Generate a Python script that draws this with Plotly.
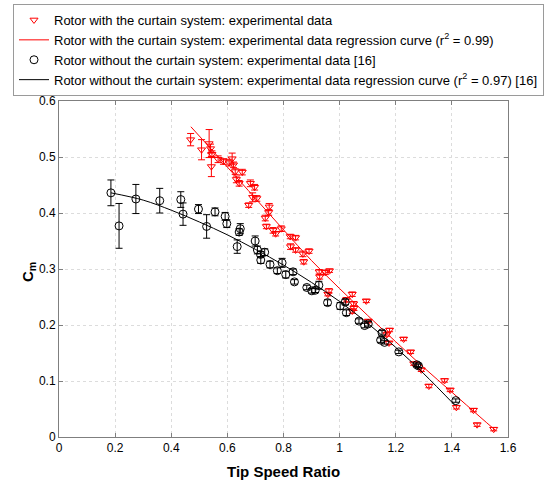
import plotly.graph_objects as go

# ---- data ----
red_x = [0.469, 0.508, 0.535, 0.540, 0.545, 0.543, 0.567, 0.586, 0.606, 0.617, 0.622, 0.628, 0.653,
         0.632, 0.642, 0.682, 0.697, 0.676, 0.690, 0.705, 0.749, 0.747, 0.735, 0.739, 0.763, 0.772,
         0.792, 0.824, 0.843, 0.825, 0.843, 0.869, 0.891, 0.872, 0.927, 0.949, 0.964, 0.929, 0.962,
         0.958, 1.024, 1.045, 1.050, 1.051, 1.045, 1.095, 1.102, 1.178, 1.168, 1.176, 1.228, 1.253,
         1.264, 1.291, 1.318, 1.374, 1.394, 1.416, 1.477, 1.490, 1.549]
red_y = [0.531, 0.513, 0.524, 0.515, 0.505, 0.483, 0.496, 0.492, 0.490, 0.497, 0.486, 0.474, 0.473,
         0.460, 0.453, 0.453, 0.446, 0.414, 0.428, 0.426, 0.411, 0.401, 0.391, 0.376, 0.369, 0.363,
         0.372, 0.358, 0.356, 0.340, 0.334, 0.327, 0.332, 0.313, 0.295, 0.294, 0.297, 0.286, 0.261,
         0.255, 0.245, 0.255, 0.238, 0.230, 0.225, 0.243, 0.207, 0.191, 0.183, 0.168, 0.175, 0.152,
         0.131, 0.120, 0.091, 0.101, 0.084, 0.053, 0.048, 0.022, 0.014]
red_err = [0.011, 0.018, 0.025, 0.008, 0.006, 0.018, 0.006, 0.005, 0.006, 0.010, 0.005, 0.005, 0.005,
           0.006, 0.005, 0.006, 0.005, 0.004, 0.008, 0.005, 0.006, 0.005, 0.005, 0.004, 0.005, 0.004,
           0.005, 0.004, 0.004, 0.005, 0.004, 0.005, 0.004, 0.004, 0.004, 0.004, 0.003, 0.004, 0.004,
           0.003, 0.004, 0.004, 0.004, 0.004, 0.004, 0.003, 0.003, 0.003, 0.003, 0.003, 0.003, 0.003,
           0.003, 0.003, 0.003, 0.003, 0.003, 0.003, 0.003, 0.003, 0.003]

red_curve_x = [0.47, 0.6, 0.7, 0.8, 0.9, 1.0, 1.1, 1.2, 1.3, 1.4, 1.5, 1.555]
red_curve_y = [0.554, 0.482, 0.426, 0.370, 0.315, 0.265, 0.217, 0.170, 0.124, 0.080, 0.036, 0.012]

black_x = [0.185, 0.214, 0.274, 0.359, 0.434, 0.442, 0.497, 0.526, 0.556, 0.592, 0.598, 0.646, 0.642,
           0.635, 0.699, 0.707, 0.733, 0.718, 0.719, 0.752, 0.778, 0.795, 0.808, 0.834, 0.839, 0.883,
           0.901, 0.913, 0.926, 0.957, 1.002, 1.020, 1.024, 1.069, 1.089, 1.102, 1.151, 1.146, 1.160,
           1.211, 1.275, 1.281, 1.414]
black_y = [0.436, 0.377, 0.425, 0.422, 0.424, 0.398, 0.407, 0.376, 0.402, 0.394, 0.381, 0.372, 0.366,
           0.340, 0.350, 0.334, 0.330, 0.326, 0.316, 0.308, 0.297, 0.311, 0.290, 0.295, 0.277, 0.267,
           0.261, 0.262, 0.271, 0.240, 0.234, 0.241, 0.222, 0.207, 0.199, 0.202, 0.186, 0.173, 0.169,
           0.152, 0.129, 0.127, 0.065]
black_err = [0.023, 0.040, 0.026, 0.022, 0.014, 0.020, 0.008, 0.021, 0.007, 0.007, 0.007, 0.009, 0.006,
             0.012, 0.009, 0.007, 0.006, 0.005, 0.006, 0.006, 0.005, 0.008, 0.006, 0.005, 0.004, 0.004,
             0.004, 0.004, 0.007, 0.005, 0.006, 0.005, 0.005, 0.004, 0.004, 0.004, 0.004, 0.004, 0.003,
             0.003, 0.003, 0.003, 0.003]

black_curve_x = [0.185, 0.3, 0.4, 0.5, 0.6, 0.7, 0.8, 0.9, 1.0, 1.1, 1.2, 1.3, 1.41]
black_curve_y = [0.436, 0.423, 0.405, 0.384, 0.361, 0.335, 0.307, 0.276, 0.242, 0.203, 0.160, 0.113, 0.057]

x_ticks = [0, 0.2, 0.4, 0.6, 0.8, 1, 1.2, 1.4, 1.6]
x_tick_labels = ["0", "0.2", "0.4", "0.6", "0.8", "1", "1.2", "1.4", "1.6"]
y_ticks = [0, 0.1, 0.2, 0.3, 0.4, 0.5, 0.6]
y_tick_labels = ["0", "0.1", "0.2", "0.3", "0.4", "0.5", "0.6"]

x_title = "<b>Tip Speed Ratio</b>"
y_title = "<b>C<sub>m</sub></b>"

labels = [
    "Rotor with the curtain system: experimental data",
    "Rotor with the curtain system: experimental data regression curve (r<sup>2</sup> = 0.99)",
    "Rotor without the curtain system: experimental data [16]",
    "Rotor without the curtain system: experimental data regression curve (r<sup>2</sup> = 0.97) [16]",
]

FONT = "Liberation Sans, Arial, sans-serif"

# plot-area geometry (pixels)
L, R, T, B = 59, 43, 101, 45
W, H = 551, 482
PW, PH = W - L - R, H - T - B

fig = go.Figure()
fig.add_trace(go.Scatter(
    x=red_x, y=red_y, mode="markers", name=labels[0],
    marker=dict(symbol="triangle-down-open", size=7, color="#ff0000", line=dict(width=1)),
    error_y=dict(type="data", array=red_err, color="#ff0000", thickness=1, width=3.5),
))
fig.add_trace(go.Scatter(
    x=red_curve_x, y=red_curve_y, mode="lines", name=labels[1],
    line=dict(color="#ff0000", width=1, shape="spline"),
))
fig.add_trace(go.Scatter(
    x=black_x, y=black_y, mode="markers", name=labels[2],
    marker=dict(symbol="circle-open", size=8, color="#000000", line=dict(width=1)),
    error_y=dict(type="data", array=black_err, color="#000000", thickness=1, width=3.5),
))
fig.add_trace(go.Scatter(
    x=black_curve_x, y=black_curve_y, mode="lines", name=labels[3],
    line=dict(color="#000000", width=1, shape="spline"),
))

axis_common = dict(
    showline=True, linecolor="#7f7f7f", linewidth=1, mirror="ticks",
    ticks="inside", ticklen=4, tickcolor="#7f7f7f",
    showgrid=True, gridcolor="#dcdcdc", griddash="dot", gridwidth=1,
    zeroline=False, tickfont=dict(family=FONT, size=12, color="#000000"),
    automargin=False,
)

fig.update_xaxes(range=[0, 1.6], tickvals=x_ticks, ticktext=x_tick_labels, **axis_common)
fig.update_yaxes(range=[0, 0.6], tickvals=y_ticks, ticktext=y_tick_labels, **axis_common)

fig.add_annotation(
    text=x_title, xref="paper", yref="paper", x=0.5, y=(T + PH - 471) / PH,
    xanchor="center", yanchor="middle", showarrow=False,
    font=dict(family=FONT, size=15, color="#000000"),
)
fig.add_annotation(
    text=y_title, xref="paper", yref="paper", x=(28 - L) / PW, y=(T + PH - 272) / PH,
    xanchor="center", yanchor="middle", showarrow=False, textangle=-90,
    font=dict(family=FONT, size=15, color="#000000"),
)

fig.update_layout(
    width=W, height=H,
    margin=dict(l=L, r=R, t=T, b=B, autoexpand=False),
    paper_bgcolor="white", plot_bgcolor="white",
    font=dict(family=FONT, size=12, color="#000000"),
    legend=dict(
        x=(13 - L) / PW, y=1 + (T - 4) / PH,
        xanchor="left", yanchor="top",
        bgcolor="white", bordercolor="#9a9a9a", borderwidth=1,
        font=dict(family=FONT, size=13, color="#000000"),
        itemwidth=30,
    ),
    showlegend=True,
)

fig.write_html(
    "out.html",
    config={"displayModeBar": False},
    post_script="document.body.style.margin='0px';",
)
